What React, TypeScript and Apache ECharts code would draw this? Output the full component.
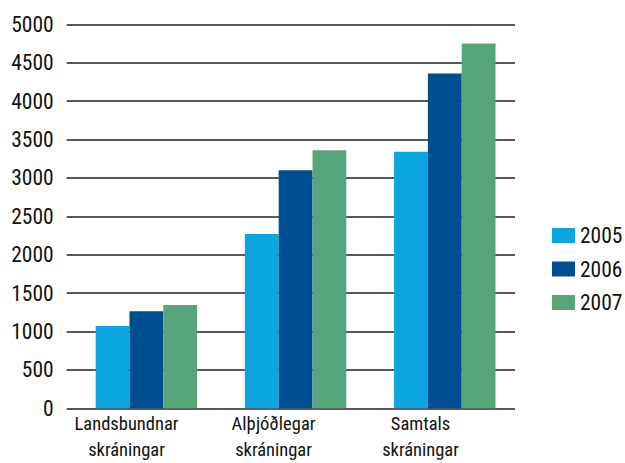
import React, { useEffect, useRef } from "react";
import * as echarts from "echarts";

const categories = ["Landsbundnar\nskráningar", "Alþjóðlegar\nskráningar", "Samtals\nskráningar"];
const seriesNames = ["2005", "2006", "2007"];
const values2005 = [1070, 2270, 3340];
const values2006 = [1265, 3100, 4360];
const values2007 = [1345, 3360, 4750];
const colors = ["#0ba6df", "#004e92", "#57a57b"];
const yMin = 0;
const yMax = 5000;
const yStep = 500;

const FONT = "'Roboto Condensed', 'Liberation Sans Narrow', Roboto, sans-serif";

export default function App() {
  const ref = useRef<HTMLDivElement>(null);
  useEffect(() => {
    if (!ref.current) return;
    const chart = echarts.init(ref.current, null, { renderer: "svg" });
    const top = 24.3;
    const bottom = 54.7;
    const allValues = [values2005, values2006, values2007];
    chart.setOption({
      animation: false,
      textStyle: { fontFamily: FONT },
      legend: {
        orient: "vertical",
        left: 552,
        top: 224.5,
        padding: 0,
        itemWidth: 23,
        itemHeight: 15,
        itemGap: 11.5,
        icon: "rect",
        textStyle: { fontFamily: FONT, fontSize: 21.5, color: "#111" },
        data: seriesNames,
      },
      grid: [
        { left: 66.7, right: 110, top, bottom },
        { left: 71.8, width: 447.6, top, bottom },
        { left: 53, width: 441, top, bottom },
      ],
      xAxis: [
        { type: "category", gridIndex: 0, data: categories, show: false },
        { type: "category", gridIndex: 1, data: categories, show: false },
        {
          type: "category",
          gridIndex: 2,
          data: categories,
          axisLine: { show: false },
          axisTick: { show: false },
          axisLabel: {
            interval: 0,
            margin: 16,
            fontFamily: FONT,
            fontSize: 18.5,
            lineHeight: 26,
            color: "#111",
          },
        },
      ],
      yAxis: [
        {
          type: "value",
          gridIndex: 0,
          min: yMin,
          max: yMax,
          interval: yStep,
          axisLine: { show: false },
          axisTick: { show: false },
          axisLabel: {
            margin: 13,
            fontFamily: FONT,
            fontSize: 21.5,
            color: "#111",
            formatter: (v: number) => String(v),
          },
          splitLine: { show: true, lineStyle: { color: "#222", width: 1.5 } },
        },
        { type: "value", gridIndex: 1, min: yMin, max: yMax, interval: yStep, show: false, splitLine: { show: false } },
        { type: "value", gridIndex: 2, min: yMin, max: yMax, interval: yStep, show: false, splitLine: { show: false } },
      ],
      series: seriesNames.map((name, i) => ({
        name,
        type: "bar",
        xAxisIndex: 1,
        yAxisIndex: 1,
        data: allValues[i],
        barGap: "0%",
        barCategoryGap: "32%",
        itemStyle: { color: colors[i] },
      })),
    });
    return () => chart.dispose();
  }, []);
  return <div ref={ref} style={{ width: 625, height: 463, position: "absolute", left: 0, top: 0 }} />;
}
